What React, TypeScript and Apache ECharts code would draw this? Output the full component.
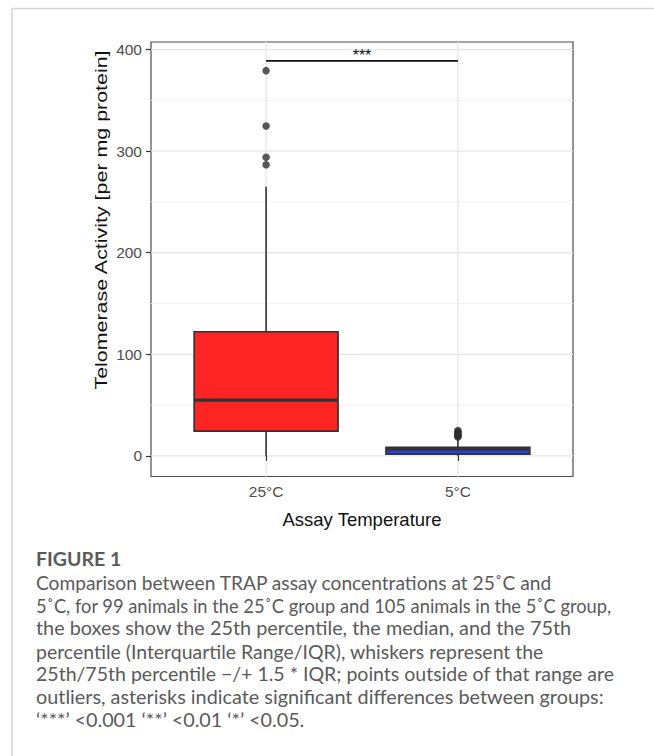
import React, { useEffect, useRef } from "react";
import * as echarts from "echarts";

// ---------- data ----------
const categories = ["25°C", "5°C"];
// [min whisker, Q1, median, Q3, max whisker]
const stats25 = [0, 24.3, 54.9, 122.2, 265];
const stats5 = [0, 1.7, 6.8, 8.3, 16];
const outliers25 = [379.3, 324.8, 294, 286.7];
const outliers5 = [25, 23.8, 22.5, 21.3, 20.2, 19.3, 18.6];
const boxFills = ["#FF2424", "#2B3FD8"];
const yTicks = [0, 100, 200, 300, 400];
const yMinorTicks = [50, 150, 250, 350];
const xTicks = [1, 2];
const signifLevel = 388.9;
const signifLabelLevel = 394;
const signifLabel = "***";

const yTitle = "Telomerase Activity [per mg protein]";
const xTitle = "Assay Temperature";
const figureLabel = "FIGURE 1";
const captionLines = [
  "Comparison between TRAP assay concentrations at 25˚C and",
  "5˚C, for 99 animals in the 25˚C group and 105 animals in the 5˚C group,",
  "the boxes show the 25th percentile, the median, and the 75th",
  "percentile (Interquartile Range/IQR), whiskers represent the",
  "25th/75th percentile −/+ 1.5 * IQR; points outside of that range are",
  "outliers, asterisks indicate significant differences between groups:",
  "‘***’ <0.001 ‘**’ <0.01 ‘*’ <0.05.",
];
// right edge (px) of each caption line in the reference (justified layout)
const captionRight = [553, 612, 572, 544, 615, 604, 305];

const CHART_FONT = "'Liberation Sans', Arial, sans-serif";
const CAPTION_FONT = "Lato, 'Open Sans', sans-serif";
const CAPTION_SIZE = 19.5;
const CAPTION_LEFT = 36;

function measure(text: string, font: string): number {
  const ctx = document.createElement("canvas").getContext("2d");
  if (!ctx) return text.length * 8;
  ctx.font = font;
  return ctx.measureText(text).width;
}

export default function App() {
  const ref = useRef<HTMLDivElement>(null);

  useEffect(() => {
    if (!ref.current) return;
    const chart = echarts.init(ref.current, null, { renderer: "svg" });

    const boxData = [
      [xTicks[0], ...stats25, 0],
      [xTicks[1], ...stats5, 1],
    ];
    const outlierData = [
      ...outliers25.map((v) => [xTicks[0], v]),
      ...outliers5.map((v) => [xTicks[1], v]),
    ];
    // [axis(0=y,1=x), value, minor?]
    const gridData = [
      ...yTicks.map((v) => [0, v, 0]),
      ...yMinorTicks.map((v) => [0, v, 1]),
      ...xTicks.map((v) => [1, v, 0]),
    ];

    const capFont = `${CAPTION_SIZE}px ${CAPTION_FONT}`;
    const captionGraphics: any[] = captionLines.map((t, i) => {
      const w = measure(t, capFont);
      const target = captionRight[i] - CAPTION_LEFT;
      const sx = w > 0 ? target / w : 1;
      return {
        type: "text",
        x: CAPTION_LEFT,
        y: 582 + i * 23,
        scaleX: Math.max(0.8, Math.min(1.2, sx)),
        style: {
          text: t,
          font: capFont,
          fill: "#5a5a5a",
          textAlign: "left",
          textVerticalAlign: "middle",
        },
      };
    });

    chart.setOption({
      animation: false,
      backgroundColor: "#ffffff",
      grid: {
        left: 151,
        top: 42,
        width: 422,
        height: 434.5,
        show: true,
        backgroundColor: "#ffffff",
        borderColor: "#4d4d4d",
        borderWidth: 1.2,
      },
      xAxis: {
        type: "value",
        min: 0.4,
        max: 2.6,
        axisLine: { show: false },
        splitLine: { show: false },
        axisTick: {
          show: true,
          customValues: xTicks,
          length: 5,
          lineStyle: { color: "#333333", width: 1.2 },
        },
        axisLabel: {
          customValues: xTicks,
          formatter: (v: number) => categories[Math.round(v) - 1] ?? "",
          color: "#4d4d4d",
          fontFamily: CHART_FONT,
          fontSize: 15.5,
          margin: 7,
        },
      },
      yAxis: {
        type: "value",
        min: -20.3,
        max: 407.5,
        axisLine: { show: false },
        splitLine: { show: false },
        axisTick: {
          show: true,
          customValues: yTicks,
          length: 5,
          lineStyle: { color: "#333333", width: 1.2 },
        },
        axisLabel: {
          customValues: yTicks,
          color: "#4d4d4d",
          fontFamily: CHART_FONT,
          fontSize: 15.5,
          margin: 9,
        },
      },
      series: [
        {
          type: "custom",
          name: "grid",
          silent: true,
          z: 0,
          data: gridData,
          renderItem: (params: any, api: any) => {
            const axis = api.value(0);
            const v = api.value(1);
            const minor = api.value(2) === 1;
            const cs = params.coordSys;
            const style = {
              stroke: minor ? "#efefef" : "#e6e6e6",
              lineWidth: minor ? 0.9 : 1.3,
            };
            if (axis === 0) {
              const y = api.coord([1, v])[1];
              return {
                type: "line",
                shape: { x1: cs.x, y1: y, x2: cs.x + cs.width, y2: y },
                style,
              };
            }
            const x = api.coord([v, 0])[0];
            return {
              type: "line",
              shape: { x1: x, y1: cs.y, x2: x, y2: cs.y + cs.height },
              style,
            };
          },
        },
        {
          type: "custom",
          name: "boxes",
          z: 3,
          data: boxData,
          renderItem: (params: any, api: any) => {
            const x = api.value(0);
            const vals = [1, 2, 3, 4, 5].map((i) => api.value(i));
            const fill = boxFills[api.value(6)];
            const ys = vals.map((v) => api.coord([x, v])[1]);
            const cx = api.coord([x, 0])[0];
            const half = api.size([0.375, 0])[0];
            const stroke = "#333333";
            return {
              type: "group",
              children: [
                {
                  type: "line",
                  shape: { x1: cx, y1: ys[4], x2: cx, y2: ys[3] },
                  style: { stroke, lineWidth: 1.6 },
                },
                {
                  type: "line",
                  shape: { x1: cx, y1: ys[1], x2: cx, y2: ys[0] },
                  style: { stroke, lineWidth: 1.6 },
                },
                {
                  type: "rect",
                  shape: {
                    x: cx - half,
                    y: ys[3],
                    width: half * 2,
                    height: ys[1] - ys[3],
                  },
                  style: { fill, stroke, lineWidth: 1.7 },
                },
                {
                  type: "line",
                  shape: { x1: cx - half, y1: ys[2], x2: cx + half, y2: ys[2] },
                  style: { stroke, lineWidth: 3.2 },
                },
              ],
            };
          },
        },
        {
          type: "scatter",
          name: "outliers",
          z: 4,
          symbol: "circle",
          symbolSize: 7.5,
          itemStyle: { color: "#2e2e2e" },
          data: outlierData,
        },
        {
          type: "custom",
          name: "significance",
          z: 5,
          data: [[xTicks[0], xTicks[1], signifLevel, signifLabelLevel]],
          renderItem: (params: any, api: any) => {
            const p1 = api.coord([api.value(0), api.value(2)]);
            const p2 = api.coord([api.value(1), api.value(2)]);
            const pt = api.coord([
              (api.value(0) + api.value(1)) / 2,
              api.value(3),
            ]);
            return {
              type: "group",
              children: [
                {
                  type: "line",
                  shape: { x1: p1[0], y1: p1[1], x2: p2[0], y2: p2[1] },
                  style: { stroke: "#111111", lineWidth: 1.8 },
                },
                {
                  type: "text",
                  x: pt[0],
                  y: pt[1],
                  style: {
                    text: signifLabel,
                    font: `16px ${CHART_FONT}`,
                    fill: "#111111",
                    textAlign: "center",
                    textVerticalAlign: "middle",
                  },
                },
              ],
            };
          },
        },
      ],
      graphic: [
        {
          type: "line",
          shape: { x1: 12, y1: 8.5, x2: 654, y2: 8.5 },
          style: { stroke: "#d4d4d4", lineWidth: 1.5 },
        },
        {
          type: "line",
          shape: { x1: 12, y1: 8.5, x2: 12, y2: 756 },
          style: { stroke: "#d4d4d4", lineWidth: 1.5 },
        },
        {
          type: "text",
          x: 101,
          y: 220,
          rotation: Math.PI / 2,
          scaleX: 1.26,
          style: {
            text: yTitle,
            font: `17px ${CHART_FONT}`,
            fill: "#111111",
            textAlign: "center",
            textVerticalAlign: "middle",
          },
        },
        {
          type: "text",
          x: 362,
          y: 519,
          style: {
            text: xTitle,
            font: `18.5px ${CHART_FONT}`,
            fill: "#111111",
            textAlign: "center",
            textVerticalAlign: "middle",
          },
        },
        {
          type: "text",
          x: CAPTION_LEFT,
          y: 558,
          style: {
            text: figureLabel,
            font: `bold ${CAPTION_SIZE}px ${CAPTION_FONT}`,
            fill: "#5a5a5a",
            textAlign: "left",
            textVerticalAlign: "middle",
          },
        },
        ...captionGraphics,
      ],
    });

    return () => chart.dispose();
  }, []);

  return (
    <div
      ref={ref}
      style={{ position: "absolute", left: 0, top: 0, width: 654, height: 756 }}
    />
  );
}
